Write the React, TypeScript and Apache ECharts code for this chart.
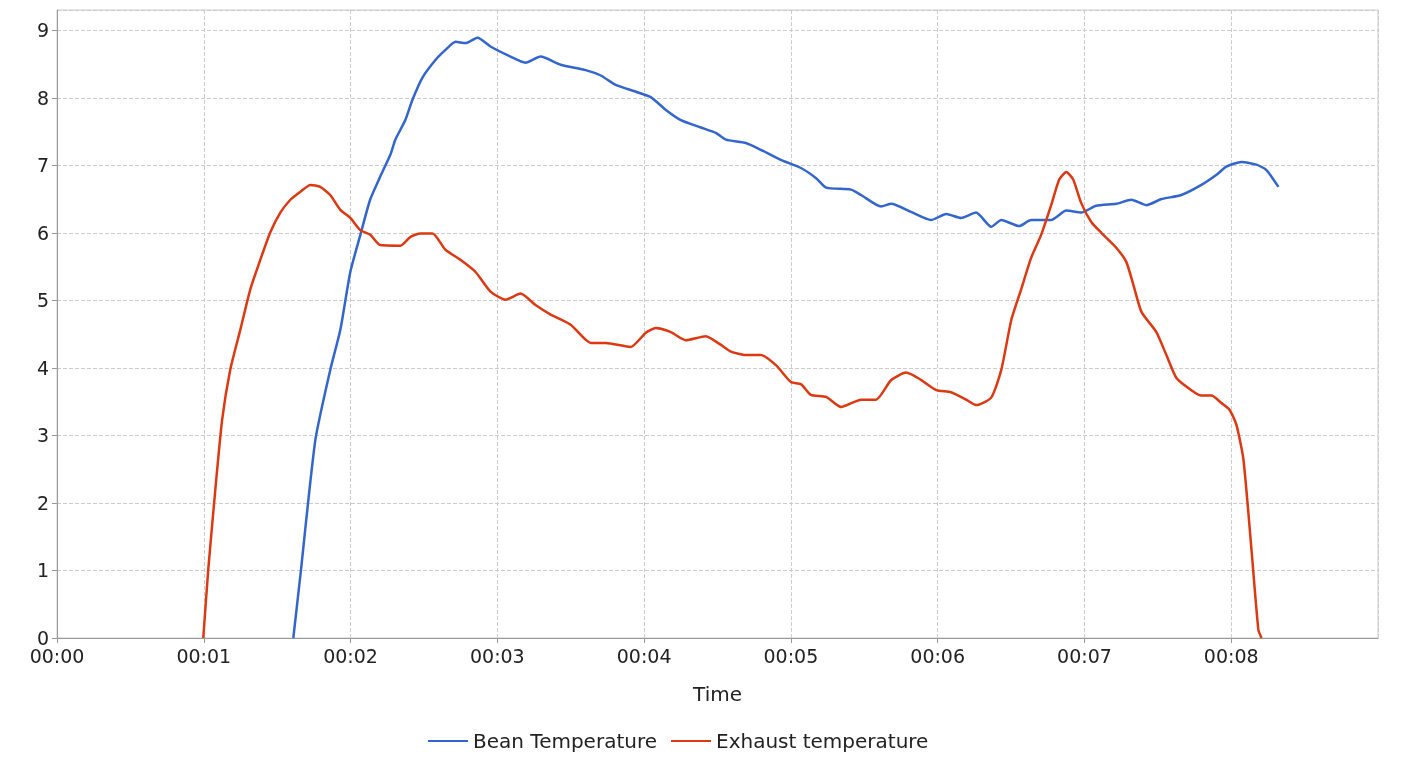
import { useEffect, useRef } from 'react';
import * as echarts from 'echarts';

// time in seconds, value
const beanTime = [96.6, 99.5, 105.6, 111.7, 115.8, 119.9, 124, 128, 132.1, 136.3, 138.3, 142.4, 145.3, 149.4, 154.7, 158.8, 162.9, 167, 171.9, 177.2, 185.4, 191.5, 197.7, 205.9, 216.1, 222.3, 228.4, 236.6, 242.7, 248.9, 255, 263.2, 269.3, 273.4, 281.6, 287.7, 295.9, 304.1, 310.3, 314.4, 324.6, 328.7, 336.9, 341, 349.1, 357.3, 363.5, 369.6, 375.7, 381.9, 386, 393.3, 398.2, 406.4, 412.6, 418.7, 424.8, 433, 439.2, 445.3, 451.5, 459.6, 467.8, 474, 478, 484.2, 490.3, 494.4, 499.3];
const beanValues = [0, 0.93, 2.93, 3.97, 4.56, 5.42, 5.97, 6.49, 6.83, 7.16, 7.38, 7.67, 7.97, 8.3, 8.56, 8.71, 8.83, 8.81, 8.89, 8.76, 8.61, 8.52, 8.61, 8.49, 8.41, 8.33, 8.19, 8.09, 8.01, 7.82, 7.67, 7.56, 7.48, 7.38, 7.33, 7.23, 7.08, 6.96, 6.81, 6.67, 6.64, 6.56, 6.39, 6.43, 6.31, 6.19, 6.28, 6.22, 6.3, 6.09, 6.19, 6.1, 6.19, 6.19, 6.33, 6.3, 6.4, 6.43, 6.49, 6.41, 6.5, 6.56, 6.71, 6.86, 6.98, 7.05, 7.01, 6.93, 6.68];

const exhaustTime = [59.8, 61.8, 64.7, 67.5, 70.8, 74.9, 79, 83.1, 87.2, 91.3, 95.4, 99.5, 103.6, 107.6, 111.7, 115.8, 119.9, 124, 128.1, 132.1, 140.4, 144.5, 148.6, 153.5, 158.8, 164.9, 171.1, 177.2, 183.4, 189.5, 195.6, 201.8, 210, 218.2, 224.3, 234.5, 240.7, 244.8, 250.9, 257, 265.2, 271.4, 275.5, 281.6, 287.7, 293.9, 300, 304.1, 308.2, 314.4, 320.5, 328.7, 334.8, 341, 347.1, 353.3, 359.4, 365.5, 371.6, 375.7, 381.9, 386, 390.1, 394.1, 398.2, 402.3, 406.4, 409.7, 412.6, 415.4, 418.7, 422.8, 426.9, 433, 437.1, 440, 443.3, 449.4, 453.5, 457.6, 463.7, 467.8, 471.9, 476, 479.3, 482.1, 485, 488.3, 491.1, 492.4];
const exhaustValues = [0, 1.0, 2.19, 3.23, 3.97, 4.56, 5.16, 5.6, 6.01, 6.3, 6.49, 6.61, 6.71, 6.68, 6.56, 6.34, 6.22, 6.04, 5.97, 5.82, 5.81, 5.94, 5.99, 5.99, 5.75, 5.6, 5.42, 5.13, 5.01, 5.1, 4.93, 4.79, 4.64, 4.37, 4.37, 4.31, 4.52, 4.59, 4.53, 4.41, 4.47, 4.34, 4.24, 4.19, 4.19, 4.04, 3.79, 3.76, 3.6, 3.57, 3.42, 3.53, 3.53, 3.82, 3.93, 3.82, 3.67, 3.64, 3.53, 3.45, 3.56, 3.97, 4.71, 5.16, 5.63, 5.97, 6.41, 6.79, 6.9, 6.79, 6.44, 6.16, 6.0, 5.78, 5.57, 5.23, 4.83, 4.53, 4.19, 3.85, 3.67, 3.59, 3.59, 3.48, 3.38, 3.16, 2.64, 1.3, 0.12, 0];

const pad = (n: number) => String(n).padStart(2, '0');
const fmtTime = (s: number) => `${pad(Math.floor(s / 3600))}:${pad(Math.floor(s / 60) % 60)}`;

export default function App() {
  const ref = useRef<HTMLDivElement>(null);

  useEffect(() => {
    if (!ref.current) return;
    const chart = echarts.init(ref.current, undefined, { renderer: 'svg' });
    const font = 'DejaVu Sans';
    const grey = '#cccccc';
    chart.setOption({
      animation: false,
      textStyle: { fontFamily: font },
      grid: { left: 57, right: 32, top: 10, bottom: 136, show: true, borderColor: grey, borderWidth: 1 },
      legend: {
        left: 423,
        bottom: 18,
        itemWidth: 40,
        itemHeight: 2,
        icon: 'rect',
        itemGap: 14,
        textStyle: { fontSize: 20, color: '#222', fontFamily: font },
        data: ['Bean Temperature', 'Exhaust temperature'],
      },
      xAxis: {
        type: 'value',
        min: 0,
        max: 540,
        interval: 60,
        name: 'Time',
        nameLocation: 'middle',
        nameGap: 46,
        nameTextStyle: { fontSize: 20, color: '#222', fontFamily: font },
        axisLine: { lineStyle: { color: '#999' } },
        axisTick: { show: true, lineStyle: { color: '#999' } },
        axisLabel: { fontSize: 19, color: '#222', formatter: fmtTime, showMaxLabel: false },
        splitLine: { show: true, lineStyle: { type: 'dashed', color: grey } },
      },
      yAxis: {
        type: 'value',
        min: 0,
        max: 9.3,
        interval: 1,
        axisLine: { show: true, lineStyle: { color: '#999' } },
        axisTick: { show: true, lineStyle: { color: '#999' } },
        axisLabel: { fontSize: 19, color: '#222', showMaxLabel: false },
        splitLine: { show: true, lineStyle: { type: 'dashed', color: grey } },
      },
      series: [
        {
          name: 'Bean Temperature',
          type: 'line',
          showSymbol: false,
          smooth: 0.2,
          color: '#3366cc',
          lineStyle: { width: 2.5 },
          data: beanTime.map((t, i) => [t, beanValues[i]]),
        },
        {
          name: 'Exhaust temperature',
          type: 'line',
          showSymbol: false,
          smooth: 0.2,
          color: '#dc3912',
          lineStyle: { width: 2.5 },
          data: exhaustTime.map((t, i) => [t, exhaustValues[i]]),
        },
      ],
    });
    return () => chart.dispose();
  }, []);

  return <div ref={ref} style={{ position: 'fixed', left: 0, top: 0, width: 1410, height: 774 }} />;
}
